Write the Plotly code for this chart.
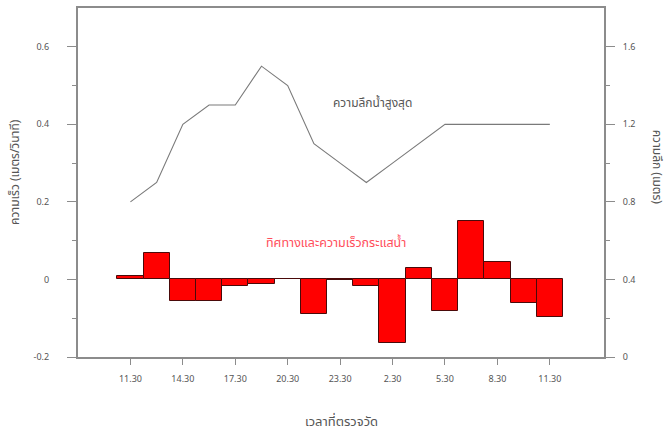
import plotly.graph_objects as go
import pandas as pd

# Measurement times (1.5 h interval, 11:30 to 11:30 next day)
times = ["2020-01-01 11:30", "2020-01-01 13:00", "2020-01-01 14:30", "2020-01-01 16:00",
         "2020-01-01 17:30", "2020-01-01 19:00", "2020-01-01 20:30", "2020-01-01 22:00",
         "2020-01-01 23:30", "2020-01-02 01:00", "2020-01-02 02:30", "2020-01-02 04:00",
         "2020-01-02 05:30", "2020-01-02 07:00", "2020-01-02 08:30", "2020-01-02 10:00",
         "2020-01-02 11:30"]

# Current speed with direction (m/s)
current_speed = [0.008, 0.069, -0.056, -0.055, -0.018, -0.011, 0.002, -0.089,
                 -0.002, -0.016, -0.163, 0.029, -0.082, 0.150, 0.046, -0.062, -0.097]

# Maximum water depth (m)
water_depth = [0.80, 0.90, 1.20, 1.30, 1.30, 1.50, 1.40, 1.10,
               1.00, 0.90, 1.00, 1.10, 1.20, 1.20, 1.20, 1.20, 1.20]

tick_times = ["2020-01-01 11:30", "2020-01-01 14:30", "2020-01-01 17:30", "2020-01-01 20:30",
              "2020-01-01 23:30", "2020-01-02 02:30", "2020-01-02 05:30", "2020-01-02 08:30",
              "2020-01-02 11:30"]
tick_labels = ["11.30", "14.30", "17.30", "20.30", "23.30", "2.30", "5.30", "8.30", "11.30"]

t = pd.to_datetime(times)
ticks = pd.to_datetime(tick_times)

thai_font = "Noto Sans Thai, Noto Sans, Liberation Sans, sans-serif"
axis_grey = "#8c8c8c"
text_grey = "#555555"

fig = go.Figure()

fig.add_trace(go.Bar(
    x=t, y=current_speed, width=1.5 * 3600 * 1000,
    marker=dict(color="#ff0000", line=dict(color="#4a0a0a", width=1)),
    yaxis="y", showlegend=False,
))

fig.add_trace(go.Scatter(
    x=t, y=water_depth, mode="lines",
    line=dict(color="#7a7a7a", width=1.1),
    yaxis="y2", showlegend=False,
))

x_start = pd.Timestamp("2020-01-01 08:30")
x_end = pd.Timestamp("2020-01-02 14:36")

fig.update_layout(
    width=666, height=437,
    margin=dict(l=78, r=62, t=6, b=80),
    paper_bgcolor="white", plot_bgcolor="white",
    font=dict(family=thai_font, color=text_grey, size=10),
    bargap=0,
    xaxis=dict(
        range=[x_start, x_end],
        tickvals=ticks, ticktext=tick_labels,
        showline=True, linecolor=axis_grey, linewidth=2, mirror=True,
        ticks="outside", ticklen=6, tickcolor=axis_grey,
        ticklabelstandoff=6,
        showgrid=False, zeroline=False,
        tickfont=dict(size=9, color=text_grey),
    ),
    yaxis=dict(
        range=[-0.2, 0.7],
        tickvals=[-0.2, 0, 0.2, 0.4, 0.6],
        ticktext=["-0.2", "0", "0.2", "0.4", "0.6"],
        showline=True, linecolor=axis_grey, linewidth=2,
        ticks="outside", ticklen=9, tickcolor=axis_grey,
        ticklabelstandoff=16,
        minor=dict(tickvals=[-0.1, 0.1, 0.3, 0.5], ticks="outside", ticklen=4, tickcolor=axis_grey),
        showgrid=False, zeroline=False,
        tickfont=dict(size=9, color=text_grey),
    ),
    yaxis2=dict(
        range=[0, 1.8], overlaying="y", side="right",
        tickvals=[0, 0.4, 0.8, 1.2, 1.6],
        ticktext=["0", "0.4", "0.8", "1.2", "1.6"],
        showline=True, linecolor=axis_grey, linewidth=2,
        ticks="outside", ticklen=9, tickcolor=axis_grey,
        ticklabelstandoff=6,
        minor=dict(tickvals=[0.2, 0.6, 1.0, 1.4], ticks="outside", ticklen=4, tickcolor=axis_grey),
        showgrid=False, zeroline=False,
        tickfont=dict(size=9, color=text_grey),
    ),
    annotations=[
        dict(text="ความเร็ว (เมตร/วินาที)", xref="paper", yref="paper",
             x=-0.12, y=0.53, xanchor="center", yanchor="middle", textangle=-90, showarrow=False,
             font=dict(size=12, color=text_grey)),
        dict(text="ความลึก (เมตร)", xref="paper", yref="paper",
             x=1.101, y=0.545, xanchor="center", yanchor="middle", textangle=90, showarrow=False,
             font=dict(size=12, color=text_grey)),
        dict(text="เวลาที่ตรวจวัด", xref="paper", yref="paper",
             x=0.5, y=-0.185, xanchor="center", yanchor="middle", showarrow=False,
             font=dict(size=13, color=text_grey)),
        dict(text="ความลึกน้ำสูงสุด", xref="paper", yref="paper",
             x=0.56, y=0.727, xanchor="center", yanchor="middle", showarrow=False,
             font=dict(size=12, color="#555555")),
        dict(text="ทิศทางและความเร็วกระแสน้ำ", xref="paper", yref="paper",
             x=0.49, y=0.325, xanchor="center", yanchor="middle", showarrow=False,
             font=dict(size=12.5, color="#ff4d5a")),
    ],
)

fig.write_html("out.html")
